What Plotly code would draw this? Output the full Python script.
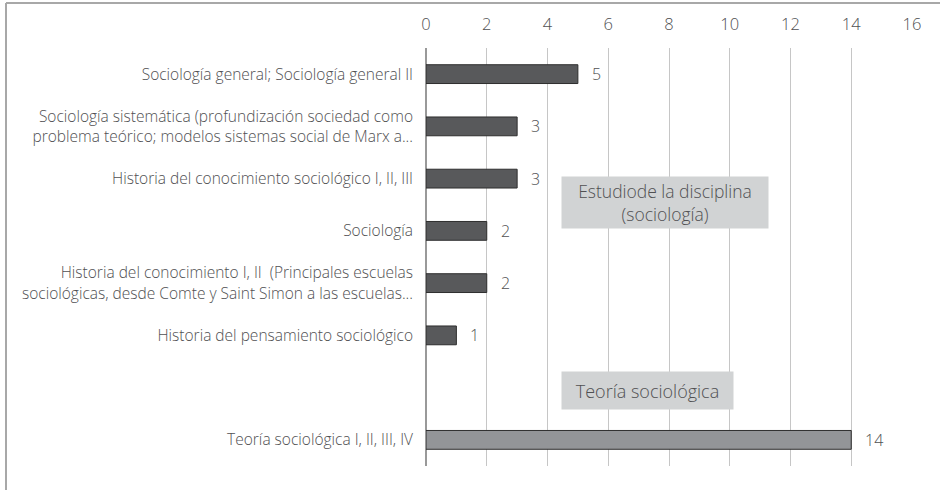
import plotly.graph_objects as go

# Course names (top to bottom); the blank entry separates the two groups
categories = [
    "Sociología general; Sociología general II",
    "Sociología sistemática (profundización sociedad como<br>problema teórico; modelos sistemas social de Marx a...",
    "Historia del conocimiento sociológico I, II, III",
    "Sociología",
    "Historia del conocimiento I, II  (Principales escuelas<br>sociológicas, desde Comte y Saint Simon a las escuelas...",
    "Historia del pensamiento sociológico",
    " ",
    "Teoría sociológica I, II, III, IV",
]
values = [5, 3, 3, 2, 2, 1, None, 14]
groups = ["disciplina"] * 6 + [None, "teoria"]
tick_values = [0, 2, 4, 6, 8, 10, 12, 14, 16]

group_colors = {"disciplina": "#58595b", "teoria": "#939598", None: "#ffffff"}
text_color = "#505052"
font_family = "'Open Sans', Lato, sans-serif"
light = 300

fig = go.Figure()
fig.add_trace(go.Bar(
    y=categories,
    x=values,
    orientation="h",
    width=0.36,
    marker=dict(color=[group_colors[g] for g in groups],
                line=dict(color="#2e2e2e", width=1)),
    hoverinfo="x+y",
))

# value labels next to each bar
for cat, val in zip(categories, values):
    if val is None:
        continue
    fig.add_annotation(x=val, y=cat, text=str(val), showarrow=False,
                       xanchor="left", xshift=12,
                       font=dict(size=16, color=text_color, family=font_family, weight=light))

# group captions
fig.add_annotation(xref="x", yref="paper", x=7.87, y=0.630,
                   text="Estudiode la disciplina<br>(sociología)", showarrow=False,
                   bgcolor="#d1d3d4", width=200, height=45, borderpad=3,
                   font=dict(size=17.5, color=text_color, family=font_family, weight=light))
fig.add_annotation(xref="x", yref="paper", x=7.29, y=0.135,
                   text="Teoría sociológica", showarrow=False,
                   bgcolor="#d1d3d4", width=165, height=31, borderpad=3,
                   font=dict(size=18, color=text_color, family=font_family, weight=light))

# outer frame (top and left edges)
frame = dict(color="#a8a8a8", width=2)
fig.add_shape(type="line", xref="paper", yref="paper",
              x0=-0.8642, x1=1.06, y0=1.1077, y1=1.1077, line=frame)
fig.add_shape(type="line", xref="paper", yref="paper",
              x0=-0.8642, x1=-0.8642, y0=1.1077, y1=-0.06, line=frame)

fig.update_layout(
    width=940, height=490,
    margin=dict(l=426, r=28, t=48, b=24),
    plot_bgcolor="white", paper_bgcolor="white",
    showlegend=False,
    font=dict(family=font_family, color=text_color, size=15, weight=light),
    xaxis=dict(
        side="top", range=[0, 16], tickvals=tick_values,
        showgrid=True, gridcolor="#c6c6c6", gridwidth=1,
        zeroline=True, zerolinecolor="#999999", zerolinewidth=2,
        showline=False, ticks="", ticklabelstandoff=14,
        tickfont=dict(size=16.5, color=text_color, weight=light),
    ),
    yaxis=dict(
        categoryorder="array", categoryarray=categories,
        autorange="reversed", showgrid=False, showline=False, ticks="",
        ticklabelstandoff=12,
        tickfont=dict(size=15.5, color=text_color, weight=light),
    ),
)

fig.write_html("out.html")
